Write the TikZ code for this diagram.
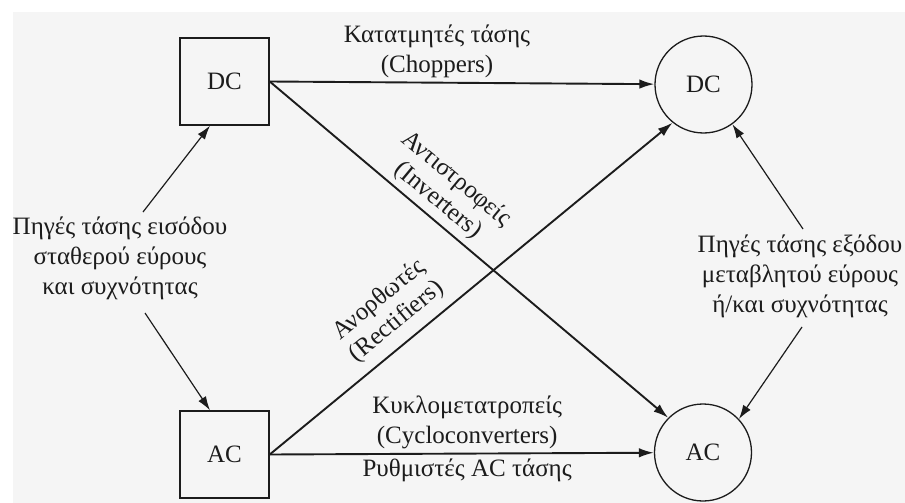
\documentclass[tikz,border=0pt]{standalone}
\usepackage{fontspec}
\setmainfont{Liberation Serif}
\usetikzlibrary{arrows.meta,calc}
\definecolor{bggray}{HTML}{F5F5F5}
\definecolor{ink}{HTML}{1C1C1C}
\begin{document}
\begin{tikzpicture}[x=1pt,y=-1pt,
  every node/.style={font=\fontsize{25}{30}\selectfont, text=ink},
  boxnode/.style={draw=ink, line width=1.4pt, minimum width=89pt, minimum height=87pt, inner sep=0pt},
  circnode/.style={draw=ink, circle, line width=1.3pt, minimum size=97pt, inner sep=0pt},
  mainconn/.style={draw=ink, line width=1.9pt, -{Latex[length=15pt,width=9.5pt]}},
  srcconn/.style={draw=ink, line width=1.2pt, -{Latex[length=14pt,width=9pt]}},
  lbl/.style={align=center, inner sep=2pt},
  rotlbl/.style={align=center, inner sep=0pt, font=\fontsize{25}{28}\selectfont}
]
\useasboundingbox (0,0) rectangle (905,503);
\fill[white] (0,0) rectangle (905,503);
\fill[bggray] (13,12) rectangle (905,503);

\node[boxnode] (dcbox) at (224.5,81.5) {DC};
\node[boxnode] (acbox) at (224.5,454.5) {AC};
\node[circnode] (dccirc) at (703.5,84.5) {DC};
\node[circnode] (accirc) at (703,452.5) {AC};

\node[lbl] (lsrc) at (120,258) {Πηγές τάσης εισόδου\\σταθερού εύρους\\και συχνότητας};
\node[lbl] (rsrc) at (800,276) {Πηγές τάσης εξόδου\\μεταβλητού εύρους\\ή/και συχνότητας};

\node[rotlbl, rotate=-39.6] (inv) at (447,190) {Αντιστροφείς\\(Inverters)};
\node[rotlbl, rotate=39.6] (rect) at (388,311) {Ανορθωτές\\(Rectifiers)};

\coordinate (l1) at (143,212);
\coordinate (l2) at (145,313);
\coordinate (r1) at (803,229);
\coordinate (r2) at (802,327);

\draw[mainconn] (dcbox.east) -- node[lbl, pos=0.435, above, inner sep=4pt] (chop) {Κατατμητές τάσης\\(Choppers)} (dccirc);
\draw[mainconn] (dcbox.east) -- (accirc.135);
\draw[mainconn] (acbox.east) -- (dccirc.-129);
\draw[mainconn] (acbox.east) -- node[lbl, pos=0.514, above, inner sep=4pt] (cyc) {Κυκλομετατροπείς\\(Cycloconverters)} node[lbl, pos=0.514, below, inner sep=4pt] (reg) {Ρυθμιστές AC τάσης} (accirc);

\draw[srcconn] (l1) -- ($(dcbox.south)+(-14.5,0)$);
\draw[srcconn] (l2) -- ($(acbox.north)+(-14.5,0)$);
\draw[srcconn] (r1) -- (dccirc.-54);
\draw[srcconn] (r2) -- (accirc.43);
\end{tikzpicture}
\end{document}
